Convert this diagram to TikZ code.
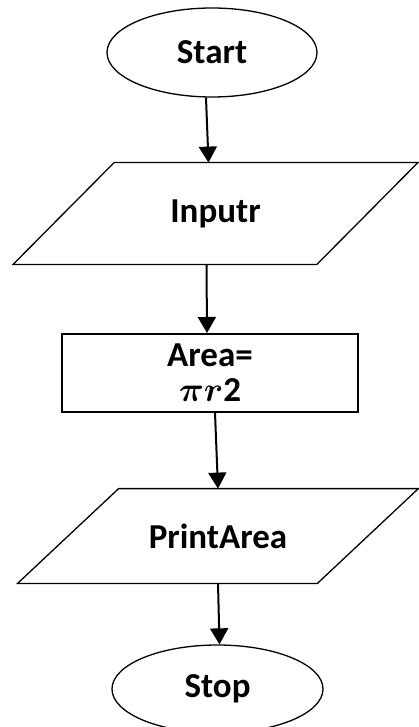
\documentclass[tikz,border=0pt]{standalone}
\usepackage{fontspec}
\setmainfont{Carlito}
\usepackage{amsmath}
\usepackage{amssymb}
\usepackage{bm}
\usetikzlibrary{shapes.geometric,arrows.meta}

\begin{document}
\begin{tikzpicture}[x=0.5pt,y=-0.5pt,
  font=\bfseries\fontsize{17.5}{12.5}\selectfont,
  term/.style={draw,ellipse,line width=0.65pt,inner sep=0pt},
  iobody/.style={rectangle,inner sep=0pt},
  proc/.style={draw,rectangle,line width=1pt,inner sep=0pt,align=center},
  arr/.style={-{Triangle[width=9pt,length=8pt]},line width=1pt}]

\useasboundingbox (0,0) rectangle (418,727);

\node[term,minimum width=105pt,minimum height=44.5pt] (start) at (212,52.5) {Start};

\node[iobody,minimum width=151.5pt,minimum height=50.5pt] (inp) at (215.5,213.5) {Inputr};
\draw[line width=0.65pt] ([xshift=-25.25pt]inp.south west) -- ([xshift=-25.25pt]inp.south east)
  -- ([xshift=25.25pt]inp.north east) -- ([xshift=25.25pt]inp.north west) -- cycle;

\node[proc,minimum width=148pt,minimum height=39pt] (area) at (210,373)
  {Area=\\[5pt]$\bm{\pi r}\mathbf{2}$};

\node[iobody,minimum width=149.5pt,minimum height=47pt] (prt) at (218,536) {PrintArea};
\draw[line width=0.65pt] ([xshift=-25.25pt]prt.south west) -- ([xshift=-25.25pt]prt.south east)
  -- ([xshift=25.25pt]prt.north east) -- ([xshift=25.25pt]prt.north west) -- cycle;

\node[term,minimum width=105.5pt,minimum height=44pt] (stop) at (217.5,689) {Stop};

\draw[arr] ([xshift=-3pt]start.south) -- ([xshift=-3.5pt]inp.north);
\draw[arr] ([xshift=-4.5pt]inp.south) -- ([xshift=-1.5pt]area.north);
\draw[arr] ([xshift=2.5pt]area.south) -- (prt.north);
\draw[arr] (prt.south) -- ([xshift=1pt]stop.north);

\end{tikzpicture}
\end{document}
